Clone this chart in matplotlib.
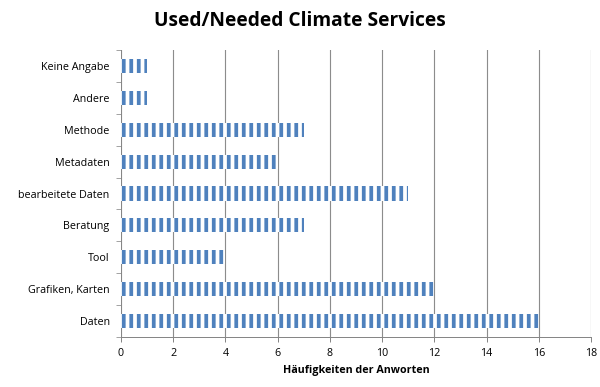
import numpy as np
import matplotlib.pyplot as plt

categories = ['Daten', 'Grafiken, Karten', 'Tool', 'Beratung', 'bearbeitete Daten',
              'Metadaten', 'Methode', 'Andere', 'Keine Angabe']
counts = [16, 12, 4, 7, 11, 6, 7, 1, 1]
xticks = [0, 2, 4, 6, 8, 10, 12, 14, 16, 18]

plt.rcParams['font.family'] = ['Open Sans', 'DejaVu Sans']
plt.rcParams['hatch.linewidth'] = 3.0

fig = plt.figure(figsize=(600 / 90, 387 / 90), dpi=90)
ax = fig.add_axes([121 / 600, 50 / 387, 470 / 600, 287 / 387])

y = np.arange(len(categories))
ax.barh(y, counts, height=0.44, color='white', edgecolor='#4F81BD',
        hatch='||', linewidth=0, zorder=3)

ax.set_xlim(0, 18)
ax.set_ylim(-0.5, len(categories) - 0.5)
ax.set_xticks(xticks)
ax.set_yticks(y)
ax.set_yticklabels(categories)
ax.set_yticks(np.arange(-0.5, len(categories), 1), minor=True)
ax.tick_params(axis='y', which='major', length=0, labelsize=8.6, pad=9)
ax.tick_params(axis='y', which='minor', length=4, color='#868686')
ax.tick_params(axis='x', length=4, color='#868686', labelsize=8.6, pad=5)
ax.grid(axis='x', color='#8C8C8C', linewidth=0.9, zorder=0)

for s in ['top', 'right']:
    ax.spines[s].set_visible(False)
for s in ['left', 'bottom']:
    ax.spines[s].set_color('#868686')

ax.set_xlabel('Häufigkeiten der Anworten', fontsize=8.6, fontweight='bold', labelpad=5)
fig.suptitle('Used/Needed Climate Services', fontsize=15.3, fontweight='bold', x=0.5, y=0.972)

fig.savefig('out.png', dpi=90)
